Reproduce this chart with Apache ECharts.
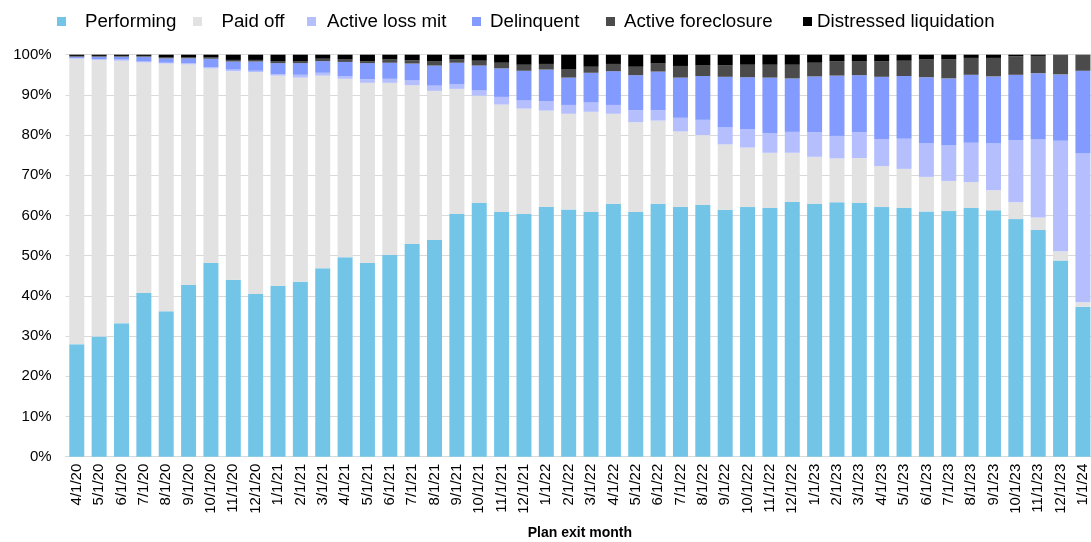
<!DOCTYPE html>
<html>
<head>
<meta charset="utf-8">
<script src="https://cdn.jsdelivr.net/npm/echarts@6/dist/echarts.min.js"></script>
<style>html,body{margin:0;padding:0;background:#fff;}#c{width:1091px;height:542px;}</style>
</head>
<body>
<div id="c"></div>
<script>
var categories = ["4/1/20","5/1/20","6/1/20","7/1/20","8/1/20","9/1/20","10/1/20","11/1/20","12/1/20",
"1/1/21","2/1/21","3/1/21","4/1/21","5/1/21","6/1/21","7/1/21","8/1/21","9/1/21","10/1/21","11/1/21","12/1/21",
"1/1/22","2/1/22","3/1/22","4/1/22","5/1/22","6/1/22","7/1/22","8/1/22","9/1/22","10/1/22","11/1/22","12/1/22",
"1/1/23","2/1/23","3/1/23","4/1/23","5/1/23","6/1/23","7/1/23","8/1/23","9/1/23","10/1/23","11/1/23","12/1/23","1/1/24"];

var performing = [28.0,29.9,33.2,40.7,36.2,42.7,48.2,44.0,40.5,42.5,43.5,46.9,49.6,48.2,50.2,52.9,53.9,60.4,63.1,60.9,60.4,62.1,61.5,60.9,62.9,60.9,62.9,62.1,62.6,61.4,62.1,61.9,63.4,62.9,63.3,63.1,62.1,61.9,61.0,61.1,61.9,61.3,59.1,56.4,48.8,37.3];
var paidOff = [71.0,68.8,65.3,57.4,61.6,54.9,48.4,51.9,55.2,52.3,50.8,47.9,44.4,44.8,42.8,39.5,37.1,31.1,26.7,26.7,26.2,24.0,23.8,24.9,22.4,22.3,20.7,18.8,17.4,16.3,14.8,13.7,12.2,11.7,10.9,11.2,10.2,9.7,8.6,7.5,6.4,5.0,4.2,3.1,2.3,1.1];
var activeLossMit = [0.2,0.2,0.3,0.2,0.2,0.3,0.3,0.4,0.3,0.4,0.7,0.7,0.7,0.9,1.0,1.2,1.3,1.1,1.3,1.9,2.0,2.3,2.2,2.3,2.2,3.0,2.6,3.4,3.8,4.2,4.6,4.9,5.2,6.1,5.6,6.4,6.7,7.5,8.3,8.8,9.8,11.6,15.5,19.4,27.5,37.0];
var delinquent = [0.3,0.6,0.7,1.2,1.1,1.2,2.1,2.0,2.3,2.7,2.9,2.9,3.5,4.0,4.0,4.2,5.0,5.4,6.2,7.1,7.4,7.9,6.8,7.4,8.4,8.7,9.6,10.0,10.9,12.6,12.9,13.8,13.3,13.9,15.0,14.2,15.5,15.6,16.5,16.7,16.9,16.7,16.2,16.5,16.5,20.6];
var activeForeclosure = [0.2,0.2,0.2,0.2,0.2,0.2,0.3,0.4,0.4,0.4,0.4,0.6,0.6,0.5,0.8,0.8,1.0,0.8,1.2,1.4,1.5,1.4,2.0,1.5,1.8,2.1,2.0,2.9,2.6,2.9,3.1,3.2,3.4,3.4,3.6,3.4,3.9,3.8,4.4,4.7,4.2,4.6,4.6,4.3,4.9,4.0];
var distressedLiquidation = [0.3,0.3,0.3,0.3,0.7,0.7,0.7,1.3,1.3,1.7,1.7,1.0,1.2,1.6,1.2,1.4,1.7,1.2,1.5,2.0,2.5,2.3,3.7,3.0,2.3,3.0,2.2,2.8,2.7,2.6,2.5,2.5,2.5,2.0,1.6,1.7,1.6,1.5,1.2,1.2,0.8,0.8,0.4,0.3,0,0];

var yTicks = [0,10,20,30,40,50,60,70,80,90,100];

var seriesNames = ["Performing","Paid off","Active loss mit","Delinquent","Active foreclosure","Distressed liquidation"];
var seriesValues = [performing, paidOff, activeLossMit, delinquent, activeForeclosure, distressedLiquidation];
var colors = ["#73C5E8","#E2E2E2","#B5BFFE","#839BFF","#4B4B4B","#000000"];

var FONT = "'Liberation Sans', Arial, sans-serif";
var legendLefts = [57, 193, 307, 472, 606, 803];
var legendPads = [14, 14.5, 6, 4, 4, 0];

var legends = seriesNames.map(function (n, i) {
  return {
    data: [n], left: legendLefts[i], top: 12, padding: 0,
    icon: 'rect', itemWidth: 9, itemHeight: 9,
    selectedMode: false,
    textStyle: { fontSize: 18.7, fontFamily: FONT, color: '#000', padding: [0, 0, 0, legendPads[i]] }
  };
});

var chart = echarts.init(document.getElementById('c'), null, { renderer: 'canvas' });
chart.setOption({
  animation: false,
  backgroundColor: '#fff',
  color: colors,
  legend: legends,
  grid: { left: 65.6, top: 54.7, width: 1028.5, bottom: 85.3, containLabel: false, outerBoundsMode: 'none' },
  xAxis: {
    type: 'category',
    data: categories,
    name: 'Plan exit month',
    nameLocation: 'middle',
    nameGap: 69,
    nameTextStyle: { fontSize: 14, fontWeight: 'bold', fontFamily: FONT, color: '#000' },
    axisLine: { show: true, lineStyle: { color: '#D9D9D9', width: 1 } },
    axisTick: { show: false },
    axisLabel: { rotate: 90, interval: 0, fontSize: 15, fontFamily: FONT, color: '#000', margin: 7 }
  },
  yAxis: {
    type: 'value',
    min: yTicks[0], max: yTicks[yTicks.length - 1], interval: 10,
    axisLine: { show: false },
    axisTick: { show: false },
    splitLine: { show: true, lineStyle: { color: '#D9D9D9', width: 1 } },
    axisLabel: { formatter: '{value}%', fontSize: 15, fontFamily: FONT, color: '#000', margin: 14 }
  },
  series: seriesNames.map(function (n, i) {
    return {
      name: n, type: 'bar', stack: 'total', barWidth: 15,
      data: seriesValues[i],
      itemStyle: { color: colors[i] }
    };
  })
});
</script>
</body>
</html>
